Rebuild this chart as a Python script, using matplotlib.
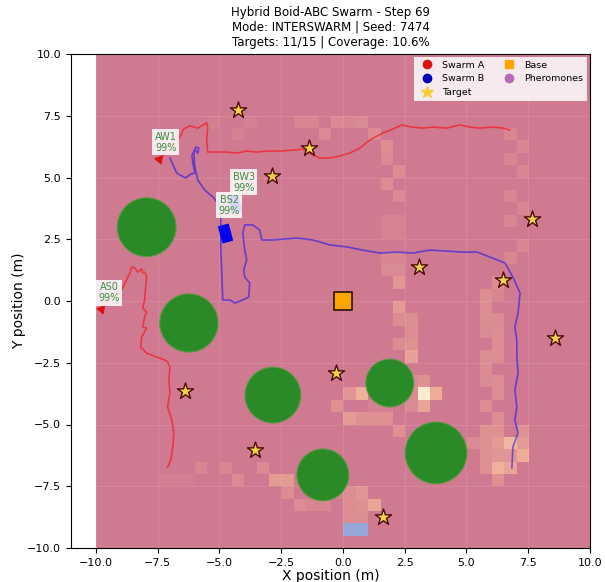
import numpy as np
import matplotlib
matplotlib.use("Agg")
import matplotlib.pyplot as plt
from matplotlib.colors import LinearSegmentedColormap, ListedColormap
from matplotlib.lines import Line2D
from matplotlib.patches import Circle
from matplotlib.markers import MarkerStyle
from matplotlib.transforms import Affine2D

# ---------------- data ----------------
TITLE = "Hybrid Boid-ABC Swarm - Step 69\nMode: INTERSWARM | Seed: 7474\nTargets: 11/15 | Coverage: 10.6%"

# pheromone grid cells (lower-left corner, 0.5 m cells) and intensity
heat_x = [-5.5, -4.5, -4.0, -2.0, -1.5, -1.0, -0.5, 0.0, 0.5, 1.0,
          1.5, 1.5, 2.0, 1.5, 2.0, 1.5, 2.0, 1.5, 2.0, 1.5, 2.0, 1.5, 2.0,
          2.0, 2.0, 2.0, 2.5, 2.5, 2.0, 2.5, 2.5,
          3.0, 2.5, 2.5, 2.5, 3.0, 3.5, 3.0,
          0.0, 0.5, -0.5, 1.0, 1.5, 0.0, 0.5, 1.0, 1.5, 2.0,
          6.0, 5.5, 6.0, 5.5, 5.5, 6.0, 6.0, 5.5, 6.0, 5.5, 6.0, 7.0,
          5.0, 5.5, 6.0, 6.5, 7.0, 5.5, 6.0, 6.5, 7.0, 5.5, 6.0, 6.5, 6.0,
          6.5, 7.0, 6.5, 7.0, 6.5, 7.0, 6.5, 7.0, 6.5,
          6.0, 5.5, 5.5, 5.5, 6.0, 5.5, 6.0, 6.0,
          -7.5, -7.0, -6.5, -6.0, -5.0, -4.5, -3.5, -3.0, -2.5, -2.5,
          -2.0, -1.5, -1.0, 0.0, 0.5, 0.0, 0.5, 1.0, 0.0, 0.5, -0.5]
heat_y = [7.0, 6.5, 7.0, 7.0, 7.0, 6.5, 7.0, 7.0, 7.0, 6.5,
          6.0, 5.5, 5.0, 4.5, 4.0, 3.0, 3.0, 2.5, 2.5, 1.5, 1.5, 1.0, 1.0,
          0.5, -0.5, -1.0, -1.0, -1.5, -2.0, -2.0, -2.5,
          -3.5, -3.5, -4.0, -4.5, -4.0, -4.0, -4.5,
          -4.0, -4.0, -4.5, -4.5, -4.5, -5.0, -5.0, -5.0, -5.0, -5.5,
          -2.0, -2.5, -2.5, -3.0, -3.5, -3.5, -4.0, -4.5, -5.0, -5.5, -5.5, -5.5,
          -6.0, -6.0, -6.0, -6.0, -6.0, -6.5, -6.5, -6.5, -6.5, -7.0, -7.0, -7.0, -7.5,
          6.5, 6.0, 5.5, 5.0, 4.0, 3.5, 3.0, 2.0, 1.5,
          0.5, 0.0, -0.5, -1.0, -1.5, -1.5, -1.0, 0.0,
          -7.5, -7.5, -7.5, -7.0, -7.0, -7.5, -7.0, -7.5, -7.5, -8.0,
          -8.5, -8.5, -8.5, -8.0, -8.0, -8.5, -8.5, -8.5, -9.0, -9.0, -8.0]
heat_v = [0.10, 0.15, 0.15, 0.20, 0.20, 0.25, 0.25, 0.20, 0.25, 0.30,
          0.30, 0.25, 0.30, 0.30, 0.25, 0.18, 0.18, 0.18, 0.18, 0.20, 0.20, 0.25, 0.25,
          0.40, 0.45, 0.30, 0.30, 0.30, 0.30, 0.35, 0.50,
          0.35, 0.25, 0.25, 0.25, 1.00, 0.60, 0.55,
          0.40, 0.65, 0.35, 0.15, 0.15, 0.45, 0.35, 0.35, 0.35, 0.35,
          0.30, 0.30, 0.30, 0.30, 0.25, 0.30, 0.30, 0.30, 0.30, 0.35, 0.35, 0.35,
          0.25, 0.35, 0.45, 0.70, 0.45, 0.35, 0.40, 0.40, 0.60, 0.35, 0.65, 0.55, 0.35,
          0.20, 0.20, 0.20, 0.20, 0.20, 0.20, 0.20, 0.20, 0.20,
          0.30, 0.30, 0.30, 0.30, 0.30, 0.25, 0.25, 0.20,
          0.10, 0.10, 0.10, 0.20, 0.20, 0.25, 0.25, 0.45, 0.45, 0.30,
          0.30, 0.20, 0.20, 0.30, 0.40, 0.30, 0.35, 0.55, 0.30, 0.30, 0.15]

# second (blue) pheromone layer cells
blue_x = [0.0, 0.5]
blue_y = [-9.5, -9.5]

# obstacles
obs_x = [-7.94, -6.23, -2.83, -0.81, 1.90, 3.77]
obs_y = [2.99, -0.89, -3.81, -7.04, -3.32, -6.15]
obs_r = [1.19, 1.18, 1.13, 1.05, 0.97, 1.25]

# targets
tgt_x = [-4.25, -1.38, -2.87, 7.65, 3.08, 6.48, 8.58, -0.28, -6.40, -3.56, 1.62]
tgt_y = [7.73, 6.19, 5.06, 3.32, 1.38, 0.85, -1.50, -2.91, -3.64, -6.03, -8.74]

# base
base_x = [0.0]
base_y = [0.0]

# Swarm A trails
trailA1_x = [-7.45, -7.00, -6.60, -6.44, -6.19, -5.87, -5.51, -5.47, -5.51, -5.47, -5.18, -4.70,
             -4.29, -3.89, -3.48, -3.08, -2.55, -2.02, -1.62, -1.21, -0.93, -0.53, -0.12, 0.28,
             0.69, 1.09, 1.62, 2.02, 2.39, 2.79, 3.20, 3.64, 4.21, 4.74, 5.14, 5.55, 6.07, 6.48, 6.76]
trailA1_y = [5.75, 6.11, 6.64, 6.96, 7.09, 7.00, 7.21, 7.04, 6.52, 6.03, 6.03, 6.03,
             5.99, 6.07, 6.03, 6.07, 6.07, 6.11, 6.15, 5.91, 5.79, 5.79, 5.87, 5.99,
             6.19, 6.52, 6.80, 6.96, 7.13, 7.04, 7.00, 7.04, 7.00, 7.13, 7.04, 7.00, 7.04, 7.00, 6.92]
trailA0_x = [-9.80, -9.43, -8.95, -8.62, -8.54, -8.42, -8.30, -8.14, -8.10, -8.02, -7.94, -7.98,
             -8.02, -8.10, -7.94, -8.02, -8.10, -7.94, -8.14, -8.18, -7.94, -7.53, -7.21, -7.09,
             -7.00, -7.04, -7.00, -7.09, -6.92, -6.84, -6.88, -6.96, -7.09]
trailA0_y = [-0.32, 0.04, 0.45, 1.13, 1.38, 1.34, 1.17, 1.30, 1.13, 1.17, 0.97, 0.57,
             0.04, -0.28, -0.45, -0.65, -1.05, -1.09, -1.46, -1.86, -2.11, -2.27, -2.39, -2.47,
             -2.67, -3.20, -3.72, -4.29, -4.82, -5.34, -5.91, -6.44, -6.72]

# Swarm B trail
trailB_x = [-7.00, -6.72, -6.36, -6.15, -5.99, -6.07, -6.11, -5.99, -5.87, -5.83, -5.95, -6.03,
            -5.99, -5.87, -5.59, -5.26, -5.06, -4.94, -4.94, -4.90, -4.86, -4.57, -4.37, -4.05,
            -3.81, -3.77, -3.97, -4.01, -3.89, -3.97, -4.05, -3.97, -3.64, -3.36, -3.28, -2.83,
            -1.86, -1.21, -0.53, 0.16, 0.81, 1.50, 2.19, 2.83, 3.52, 4.21, 4.86, 5.43,
            5.95, 6.56, 6.88, 7.17, 7.09, 6.96, 7.04, 7.04, 7.09, 6.96, 7.04, 6.96, 7.09, 6.88, 6.84]
trailB_y = [5.79, 5.18, 4.98, 5.14, 5.18, 5.59, 5.91, 6.11, 5.99, 6.19, 6.23, 6.03,
            5.43, 4.90, 4.49, 4.21, 3.97, 3.48, 2.19, 1.13, 0.04, 0.04, -0.08, 0.04,
            0.16, 0.73, 0.97, 1.26, 1.66, 2.06, 2.75, 3.08, 3.08, 2.87, 2.47, 2.47,
            2.55, 2.47, 2.27, 2.19, 2.06, 1.94, 1.98, 1.94, 2.06, 2.02, 1.98, 1.98,
            1.78, 1.54, 0.97, 0.32, -0.49, -1.05, -1.58, -2.27, -2.91, -3.60, -4.29, -4.82, -5.34, -5.91, -6.76]

# agents
agent_names = ["AS0", "AW1", "BS2", "BW3"]
agent_x = [-9.80, -7.45, -4.78, -4.40]
agent_y = [-0.32, 5.75, 2.75, 3.95]
agent_swarm = ["A", "A", "B", "B"]
agent_heading = [200, 200, 15, 15]
agent_conf = [99, 99, 99, 99]
label_x = [-9.45, -7.17, -4.60, -4.01]
label_y = [0.34, 6.42, 3.87, 4.80]

# communication links (x1, y1) -> (x2, y2)
link_x1 = [-7.45, -9.80]
link_y1 = [5.75, -0.32]
link_x2 = [-4.25, -4.29]
link_y2 = [7.73, 4.13]

# ---------------- figure ----------------
fig = plt.figure(figsize=(6.05, 5.82), dpi=100)
ax = fig.add_axes([71 / 605, 1 - 548 / 582, 519 / 605, 494 / 582])
ax.set_facecolor("white")

grid = np.zeros((40, 40))
for x0, y0, v in zip(heat_x, heat_y, heat_v):
    grid[int(round((y0 + 10) / 0.5)), int(round((x0 + 10) / 0.5))] = v
heat_cmap = LinearSegmentedColormap.from_list(
    "pher", [(0.0, "#cf7a91"), (0.2, "#d78692"), (0.4, "#e29693"),
             (0.6, "#edab98"), (0.8, "#f6c6a8"), (1.0, "#fdebcd")])
ax.imshow(grid, origin="lower", extent=[-10, 10, -10, 10], cmap=heat_cmap,
          vmin=0, vmax=1, interpolation="nearest", aspect="auto", zorder=0)

bgrid = np.ma.masked_all((40, 40))
for x0, y0 in zip(blue_x, blue_y):
    bgrid[int(round((y0 + 10) / 0.5)), int(round((x0 + 10) / 0.5))] = 1.0
ax.imshow(bgrid, origin="lower", extent=[-10, 10, -10, 10],
          cmap=ListedColormap(["#97a6d8"]), vmin=0, vmax=1,
          interpolation="nearest", aspect="auto", zorder=0.5)

ax.grid(True, color="white", alpha=0.1, linewidth=0.8)

# obstacles
for cx, cy, r in zip(obs_x, obs_y, obs_r):
    ax.add_patch(Circle((cx, cy), r, facecolor="#228b22", edgecolor="#5a9a40",
                        linewidth=0.8, alpha=0.95, zorder=3))

# trails
ax.plot(trailA1_x, trailA1_y, color="red", alpha=0.55, lw=1.2, zorder=4)
ax.plot(trailA0_x, trailA0_y, color="red", alpha=0.55, lw=1.2, zorder=4)
ax.plot(trailB_x, trailB_y, color="blue", alpha=0.5, lw=1.2, zorder=4)

# links
for x1, y1, x2, y2 in zip(link_x1, link_y1, link_x2, link_y2):
    ax.plot([x1, x2], [y1, y2], color="orange", alpha=0.3, lw=1.0,
            linestyle=":", zorder=4)

# targets
ax.scatter(tgt_x, tgt_y, marker="*", s=150, facecolor="#f2d24a",
           edgecolor="#4a0a0a", linewidth=1.0, zorder=6)

# base
ax.scatter(base_x, base_y, marker="s", s=150, facecolor="orange",
           edgecolor="#3a1a0a", linewidth=1.3, zorder=6)

# agents
for name, x, y, sw, hd, cf, lx, ly in zip(agent_names, agent_x, agent_y, agent_swarm,
                                          agent_heading, agent_conf, label_x, label_y):
    if sw == "A":
        m = MarkerStyle((3, 0, hd))
        ax.scatter([x], [y], marker=m, s=40, color="#e01010", zorder=7)
    else:
        m = MarkerStyle("s", transform=Affine2D().scale(0.6, 1.0).rotate_deg(hd))
        ax.scatter([x], [y], marker=m, s=140, color="#0000ee", zorder=7)
    ax.text(lx, ly, f"{name}\n{cf}%", fontsize=7, color="#3d8f3d", ha="center",
            va="center", linespacing=1.15, zorder=8,
            bbox=dict(boxstyle="square,pad=0.25", facecolor="white",
                      edgecolor="none", alpha=0.85))

ax.set_xlim(-11, 10)
ax.set_ylim(-10, 10)
ticks = [-10.0, -7.5, -5.0, -2.5, 0.0, 2.5, 5.0, 7.5, 10.0]
ax.set_xticks(ticks)
ax.set_yticks(ticks)
ax.tick_params(labelsize=8)
ax.set_xlabel("X position (m)", fontsize=10, labelpad=1)
ax.set_ylabel("Y position (m)", fontsize=10, labelpad=1)
ax.set_title(TITLE, fontsize=8.5, pad=6)

handles = [
    Line2D([], [], marker="o", linestyle="none", color="#dd1111", markersize=6, label="Swarm A"),
    Line2D([], [], marker="o", linestyle="none", color="#0000bb", markersize=6, label="Swarm B"),
    Line2D([], [], marker="*", linestyle="none", color="#f5d033", markersize=9, label="Target"),
    Line2D([], [], marker="s", linestyle="none", color="orange", markersize=6, label="Base"),
    Line2D([], [], marker="o", linestyle="none", color="#b86bb8", markersize=6, label="Pheromones"),
]
ax.legend(handles=handles, loc="upper right", ncol=2, fontsize=6.8, framealpha=0.85,
          borderaxespad=0.3, columnspacing=1.6, handletextpad=0.6, fancybox=False,
          edgecolor="none")

fig.savefig("out.png", dpi=100)
